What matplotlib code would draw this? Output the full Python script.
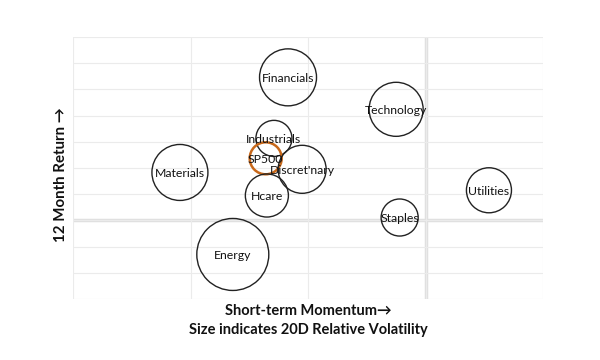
import matplotlib
matplotlib.use("Agg")
import matplotlib.pyplot as plt

sectors = ["Financials", "Technology", "Industrials", "SP500", "Discret'nary",
           "Materials", "Hcare", "Energy", "Staples", "Utilities"]
momentum = [-1.17, -0.25, -1.29, -1.36, -1.05, -2.09, -1.35, -1.64, -0.22, 0.54]
ret12m = [5.46, 4.24, 3.13, 2.37, 1.95, 1.83, 0.95, -1.30, 0.11, 1.15]
volatility = [3.17, 2.85, 1.27, 1.00, 2.25, 3.06, 1.81, 5.06, 1.34, 1.98]

plt.rcParams['font.family'] = ['Lato', 'DejaVu Sans']

fig = plt.figure(figsize=(6, 3.6), dpi=100)
ax = fig.add_axes([73/600, 61/360, 470/600, 262/360])

ax.set_xlim(-3, 1)
ax.set_ylim(-3, 7)
ax.set_xticks(range(-3, 2))
ax.set_yticks(range(-3, 8))
ax.grid(True, color="#EBEBEB", linewidth=0.8, zorder=0)
ax.axvline(0, color="#E0E0E0", linewidth=2.5, zorder=0.5)
ax.axhline(0, color="#E0E0E0", linewidth=2.5, zorder=0.5)
ax.tick_params(length=0, labelbottom=False, labelleft=False)
for s in ax.spines.values():
    s.set_visible(False)

k = 531
edge = ["#C8681A" if s == "SP500" else "#222222" for s in sectors]
lw = [1.8 if s == "SP500" else 1.0 for s in sectors]
ax.scatter(momentum, ret12m, s=[k * v for v in volatility], facecolors="none",
           edgecolors=edge, linewidths=lw, zorder=2, clip_on=False)
for name, x, y in zip(sectors, momentum, ret12m):
    ax.text(x, y - 0.04, name, ha="center", va="center", fontsize=8.8, color="#111111", zorder=3)

fig.text(308/600, 1 - 311/360, "Short-term Momentum\u2192", ha="center", va="center",
         fontsize=10.5, fontweight="bold", color="#111111")
fig.text(308/600, 1 - 330/360, "Size indicates 20D Relative Volatility", ha="center", va="center",
         fontsize=10.5, fontweight="bold", color="#111111")
fig.text(61/600, 1 - 175/360, "12 Month Return \u2192", ha="center", va="center", rotation=90,
         fontsize=10.8, fontweight="bold", color="#111111")

fig.savefig("out.png", dpi=100, facecolor="white")
